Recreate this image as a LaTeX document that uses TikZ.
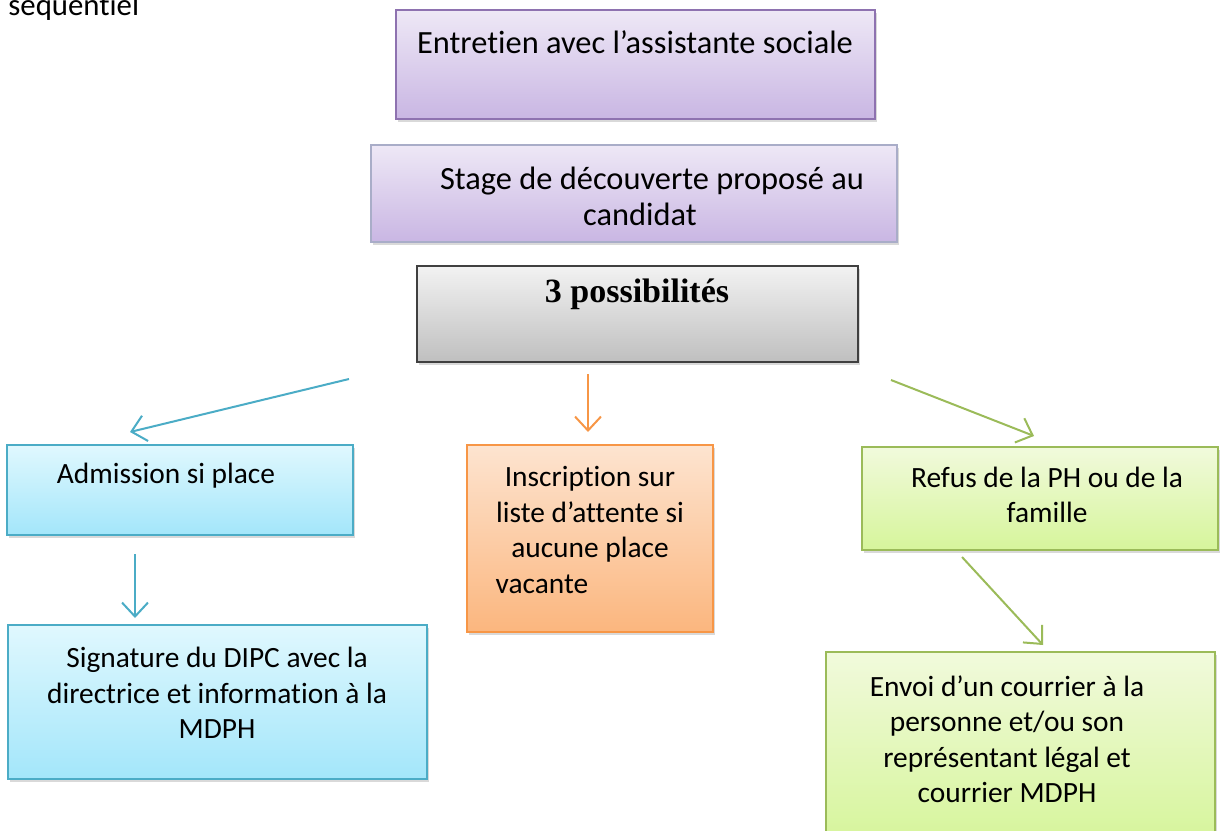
\documentclass[tikz,border=0pt]{standalone}
\usepackage{fontspec}
\setmainfont{Carlito}[Ligatures=NoCommon]
\newfontfamily\possfont{Liberation Serif}
\usetikzlibrary{arrows.meta,shadows}

\definecolor{violetbord}{HTML}{8E72B0}
\definecolor{violethaut}{HTML}{EEE8F6}
\definecolor{violetbas}{HTML}{C9B6E3}
\definecolor{stagebord}{HTML}{A9ADC8}
\definecolor{bleubord}{HTML}{4BACC6}
\definecolor{bleuhaut}{HTML}{E0F8FE}
\definecolor{bleubas}{HTML}{A3E6FA}
\definecolor{orangebord}{HTML}{F79646}
\definecolor{orangehaut}{HTML}{FDE4D0}
\definecolor{orangebas}{HTML}{FBB67E}
\definecolor{vertbord}{HTML}{9BBB59}
\definecolor{verthaut}{HTML}{F1FADC}
\definecolor{vertbas}{HTML}{D6F59B}
\definecolor{grisbord}{HTML}{404040}

\tikzset{
    boite/.style={draw, line width=1pt, rectangle, inner sep=0pt,
        drop shadow={opacity=0.3, shadow xshift=1pt, shadow yshift=-1.5pt}},
    violet/.style={boite, draw=violetbord, top color=violethaut, bottom color=violetbas},
    stage/.style={boite, draw=stagebord, top color=violethaut, bottom color=violetbas},
    gris/.style={boite, draw=grisbord, top color=black!5, bottom color=black!25},
    bleu/.style={boite, draw=bleubord, top color=bleuhaut, bottom color=bleubas},
    orange/.style={boite, draw=orangebord, top color=orangehaut, bottom color=orangebas},
    vert/.style={boite, draw=vertbord, top color=verthaut, bottom color=vertbas},
    texte/.style={align=center, inner sep=0pt, font=\fontsize{14.7}{17.75}\selectfont},
    grand/.style={align=center, inner sep=0pt, font=\fontsize{16.2}{18}\selectfont},
}

\begin{document}
\begin{tikzpicture}[x=0.5pt, y=-0.5pt]
    \useasboundingbox (0, 0) rectangle (1220, 830);

    \node[anchor=base west, inner sep=0pt, font=\fontsize{15.4}{17}\selectfont] (titre) at (8, 16) {sequentiel};

    % boites
    \node[violet, minimum width=239.5pt, minimum height=54.5pt] (entretien) at (635.5, 64.5) {};
    \node[grand] (entretienT) at (635, 42) {Entretien avec l’assistante sociale};

    \node[stage, minimum width=263pt, minimum height=48.5pt] (stage) at (634, 193.5) {};
    \node[grand] (stageT) at (640, 196) {\hspace*{12pt}Stage de découverte proposé au\\candidat};

    \node[gris, minimum width=220.5pt, minimum height=48pt] (poss) at (637.5, 314) {};
    \node[inner sep=0pt, font=\possfont\bfseries\fontsize{17}{20}\selectfont] (possT) at (637, 294) {3 possibilités};

    \node[bleu, minimum width=173pt, minimum height=45pt] (admission) at (180, 490) {};
    \node[texte] (admissionT) at (166, 476) {Admission si place};

    \node[orange, minimum width=123pt, minimum height=93.5pt] (attente) at (590, 538.5) {};
    \node[texte] (attenteT) at (590, 530) {Inscription sur\\liste d’attente si\\aucune place\\vacante\hspace*{48pt}};

    \node[vert, minimum width=178pt, minimum height=51.5pt] (refus) at (1040, 498.5) {};
    \node[texte] (refusT) at (1047, 495) {Refus de la PH ou de la\\famille};

    \node[bleu, minimum width=209.5pt, minimum height=77pt] (signature) at (217.5, 702) {};
    \node[texte] (signatureT) at (217, 693) {Signature du DIPC avec la\\directrice et information à la\\MDPH};

    \node[vert, minimum width=194.5pt, minimum height=95pt] (envoi) at (1020.5, 747) {};
    \node[texte] (envoiT) at (1007, 739) {Envoi d’un courrier à la\\personne et/ou son\\représentant légal et\\courrier MDPH};

    % fleches
    \coordinate (gaucheA) at (349, 379);
    \coordinate (gaucheB) at (130, 432);
    \coordinate (admA) at (135, 554);
    \coordinate (admB) at (135, 618);
    \coordinate (milieuA) at (588, 374);
    \coordinate (milieuB) at (588, 432);
    \coordinate (droiteA) at (891, 380);
    \coordinate (droiteB) at (1034, 436);
    \coordinate (refusA) at (962, 557);
    \coordinate (refusB) at (1043, 645);
    \draw[bleubord, line width=1pt, -{Straight Barb[length=7pt, width=13pt]}] (gaucheA) -- (gaucheB);
    \draw[bleubord, line width=1pt, -{Straight Barb[length=7pt, width=13pt]}] (admA) -- (admB);
    \draw[orangebord, line width=1pt, -{Straight Barb[length=7pt, width=13pt]}] (milieuA) -- (milieuB);
    \draw[vertbord, line width=1pt, -{Straight Barb[length=7pt, width=13pt]}] (droiteA) -- (droiteB);
    \draw[vertbord, line width=1pt, -{Straight Barb[length=7pt, width=13pt]}] (refusA) -- (refusB);
\end{tikzpicture}
\end{document}
